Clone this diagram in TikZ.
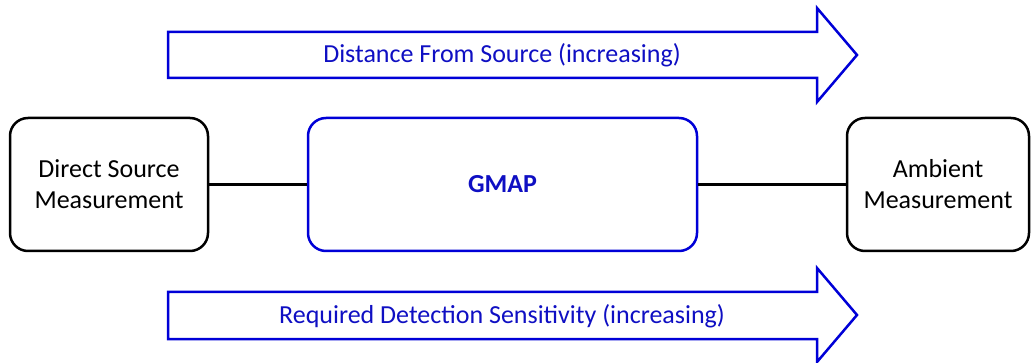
\documentclass[tikz,border=0pt]{standalone}
\usepackage{fontspec}
\setmainfont{Carlito}
\definecolor{gblue}{RGB}{0,0,215}
\definecolor{tblue}{RGB}{15,15,195}
\begin{document}
\begin{tikzpicture}[x=1pt,y=-1pt,
  box/.style={draw=black, line width=2.5pt, rounded corners=18pt, fill=white, align=center,
    inner sep=0pt, minimum height=133pt, font=\fontsize{26}{31}\selectfont},
  bluebox/.style={box, draw=gblue, text=tblue, font=\fontsize{26}{31}\selectfont\bfseries},
  bigarrow/.style={draw=gblue, line width=2.5pt, line join=miter, fill=white},
  arrowtext/.style={text=tblue, font=\fontsize{26}{31}\selectfont},
  link/.style={draw=black, line width=2.5pt}]
\useasboundingbox (0,0) rectangle (1033,363);
% arrows
\draw[bigarrow] (168,32) -- (817,32) -- (817,8) -- (857,55) -- (817,102) -- (817,78) -- (168,78) -- cycle;
\node[arrowtext] (topt) at (502,55) {Distance From Source (increasing)};
\draw[bigarrow] (168,292) -- (817,292) -- (817,268) -- (857,315) -- (817,362) -- (817,339) -- (168,339) -- cycle;
\node[arrowtext] (bott) at (502,316) {Required Detection Sensitivity (increasing)};
% boxes
\node[box, minimum width=198pt] (L) at (109,184.5) {Direct Source\\Measurement};
\node[bluebox, minimum width=389pt] (M) at (502.5,184.5) {GMAP};
\node[box, minimum width=182pt] (R) at (938,184.5) {Ambient\\Measurement};
\draw[link] (L.east) -- (M.west);
\draw[link] (M.east) -- (R.west);
\end{tikzpicture}
\end{document}
